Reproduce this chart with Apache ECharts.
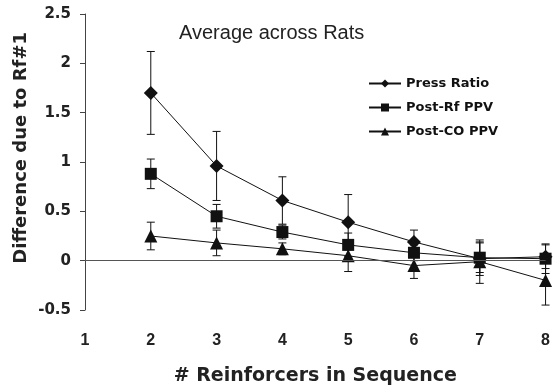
<!DOCTYPE html>
<html>
<head>
<meta charset="utf-8">
<script src="https://cdn.jsdelivr.net/npm/echarts@6/dist/echarts.min.js"></script>
<style>
  html, body { margin: 0; padding: 0; background: #fff; }
  #chart { width: 553px; height: 391px; }
</style>
</head>
<body>
<div id="chart"></div>
<script>
// values
const categories = [2, 3, 4, 5, 6, 7, 8];
const xTicks = [1, 2, 3, 4, 5, 6, 7, 8];

const pressRatio = [1.70, 0.96, 0.61, 0.39, 0.19, 0.02, 0.04];
const pressRatioErr = [0.42, 0.35, 0.24, 0.28, 0.12, 0.17, 0.12];

const postRf = [0.88, 0.45, 0.29, 0.16, 0.08, 0.03, 0.02];
const postRfErr = [0.15, 0.12, 0.07, 0.12, 0.08, 0.15, 0.15];

const postCO = [0.25, 0.18, 0.12, 0.05, -0.05, -0.01, -0.20];
const postCOErr = [0.14, 0.13, 0.06, 0.16, 0.13, 0.22, 0.25];

const ink = "#111";
const font = "Liberation Sans";
const wide = "DejaVu Sans";

function lineSeries(name, values, symbol, size) {
  return {
    name,
    type: "line",
    data: categories.map((c, i) => [c, values[i]]),
    symbol,
    symbolSize: size,
    showAllSymbol: true,
    z: 3,
    lineStyle: { color: ink, width: 1 },
    itemStyle: { color: ink },
    emphasis: { disabled: true }
  };
}

function errorSeries(values, errs) {
  return {
    type: "custom",
    silent: true,
    z: 2,
    data: categories.map((c, i) => [c, values[i] - errs[i], values[i] + errs[i]]),
    encode: { x: 0, y: [1, 2] },
    renderItem(params, api) {
      const x = api.value(0);
      const lo = api.coord([x, api.value(1)]);
      const hi = api.coord([x, api.value(2)]);
      const w = 4;
      const st = { stroke: ink, lineWidth: 1 };
      return {
        type: "group",
        children: [
          { type: "line", shape: { x1: lo[0], y1: lo[1], x2: hi[0], y2: hi[1] }, style: st },
          { type: "line", shape: { x1: lo[0] - w, y1: lo[1], x2: lo[0] + w, y2: lo[1] }, style: st },
          { type: "line", shape: { x1: hi[0] - w, y1: hi[1], x2: hi[0] + w, y2: hi[1] }, style: st }
        ]
      };
    }
  };
}

const press = lineSeries("Press Ratio", pressRatio, "diamond", 14);
press.markLine = {
  silent: true,
  symbol: "none",
  label: { show: false },
  lineStyle: { color: "#555", width: 1, type: "solid" },
  data: [{ yAxis: 0 }]
};

const chart = echarts.init(document.getElementById("chart"));
chart.setOption({
  animation: false,
  backgroundColor: "#fff",
  title: {
    text: "Average across Rats",
    left: 174,
    top: 18,
    textStyle: { fontFamily: font, fontSize: 20, fontWeight: "normal", color: "#222" }
  },
  legend: {
    orient: "vertical",
    left: 363,
    top: 72,
    itemWidth: 32,
    itemHeight: 10,
    itemGap: 11,
    data: ["Press Ratio", "Post-Rf PPV", "Post-CO PPV"],
    textStyle: { fontFamily: wide, fontSize: 13, fontWeight: "bold", color: ink }
  },
  grid: { left: 85, right: 7, top: 14, bottom: 80 },
  xAxis: {
    type: "value",
    min: 1,
    max: 8,
    interval: 1,
    name: "# Reinforcers in Sequence",
    nameLocation: "middle",
    nameGap: 57,
    nameTextStyle: { fontFamily: wide, fontSize: 19, fontWeight: "bold", color: "#222" },
    axisLine: { show: false },
    axisTick: { show: false },
    splitLine: { show: false },
    axisLabel: {
      margin: 23,
      fontFamily: font, fontSize: 16, fontWeight: "bold", color: "#222",
      formatter: v => (xTicks.includes(v) ? String(v) : "")
    }
  },
  yAxis: {
    type: "value",
    min: -0.5,
    max: 2.5,
    interval: 0.5,
    axisLine: { show: true, lineStyle: { color: "#444", width: 1 } },
    axisTick: { show: true, inside: false, length: 5, lineStyle: { color: "#444" } },
    splitLine: { show: false },
    axisLabel: { margin: 14, fontFamily: wide, fontSize: 15, fontWeight: "bold", color: "#222" }
  },
  graphic: [{
    type: "text",
    left: 12,
    top: 32,
    rotation: Math.PI / 2,
    style: {
      text: "Difference due to Rf#1",
      font: "bold 18px 'DejaVu Sans'",
      fill: "#222"
    }
  }],
  series: [
    errorSeries(pressRatio, pressRatioErr),
    errorSeries(postRf, postRfErr),
    errorSeries(postCO, postCOErr),
    press,
    lineSeries("Post-Rf PPV", postRf, "rect", 12),
    lineSeries("Post-CO PPV", postCO, "triangle", 13)
  ]
});
</script>
</body>
</html>
